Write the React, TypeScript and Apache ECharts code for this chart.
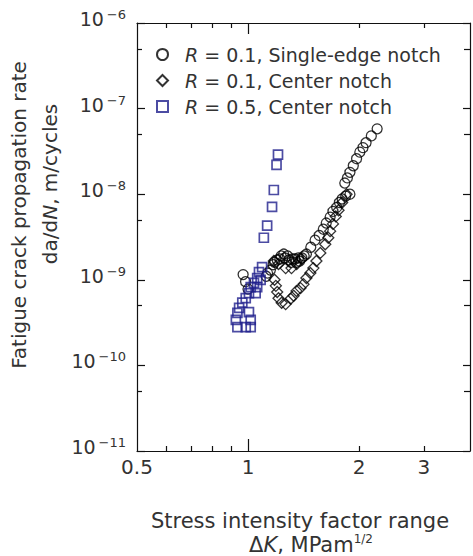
import React, { useEffect, useRef } from 'react';
import * as echarts from 'echarts';

// ---- axis ticks ----
const xMin = 0.5;
const xMax = 4;
const xTickLabels = [0.5, 1, 2, 3];
const xMajorTicks = [1];
const xMinorTicks = [0.6, 0.7, 0.8, 0.9, 2, 3];
const yExpMin = -11;
const yExpMax = -6;
const yMinorTicks = [5e-11, 5e-10, 5e-9, 5e-8, 5e-7];

// ---- series ----
const seriesNames = ['R = 0.1, Single-edge notch', 'R = 0.1, Center notch', 'R = 0.5, Center notch'];

// R = 0.1, single-edge notch (circles)
const senK = [0.97, 0.985, 1.0, 1.12, 1.13, 1.15, 1.17, 1.18, 1.2, 1.22, 1.23, 1.25, 1.26, 1.28, 1.29, 1.31, 1.32, 1.34, 1.35, 1.37, 1.38, 1.4, 1.42, 1.44, 1.48, 1.52, 1.56, 1.6, 1.63, 1.67, 1.7, 1.74, 1.77, 1.8, 1.84, 1.89, 1.83, 1.86, 1.89, 1.93, 1.97, 2.01, 2.05, 2.09, 2.16, 2.24];
const senRate = [1.15e-9, 9.5e-10, 7.8e-10, 1.1e-9, 1.2e-9, 1.3e-9, 1.5e-9, 1.6e-9, 1.7e-9, 1.75e-9, 1.9e-9, 2.0e-9, 1.8e-9, 1.9e-9, 1.7e-9, 1.6e-9, 1.75e-9, 1.75e-9, 1.6e-9, 1.8e-9, 1.65e-9, 1.8e-9, 1.9e-9, 2.0e-9, 2.4e-9, 2.9e-9, 3.3e-9, 3.9e-9, 4.6e-9, 5.4e-9, 6.3e-9, 7.0e-9, 8.0e-9, 8.8e-9, 9.5e-9, 1.0e-8, 1.35e-8, 1.55e-8, 1.8e-8, 2.15e-8, 2.6e-8, 3.1e-8, 3.5e-8, 4.0e-8, 4.8e-8, 5.8e-8];

// R = 0.1, center notch (diamonds)
const cnK = [1.175, 1.18, 1.19, 1.2, 1.21, 1.234, 1.265, 1.305, 1.33, 1.354, 1.388, 1.414, 1.44, 1.476, 1.504, 1.533, 1.571, 1.62, 1.651, 1.67, 1.21, 1.265, 1.312, 1.355, 1.397, 1.7, 1.73, 1.76, 1.8, 1.85];
const cnRate = [1.66e-9, 1.0e-9, 8.5e-10, 7.2e-10, 6.1e-10, 5.4e-10, 5.2e-10, 6.0e-10, 6.5e-10, 7.4e-10, 8.0e-10, 8.9e-10, 1.05e-9, 1.2e-9, 1.37e-9, 1.66e-9, 2.06e-9, 2.6e-9, 3.1e-9, 3.7e-9, 1.53e-9, 1.37e-9, 1.37e-9, 1.53e-9, 1.75e-9, 4.5e-9, 5.5e-9, 6.5e-9, 8.0e-9, 1.0e-8];

// R = 0.5, center notch (squares)
const cn5K = [0.927, 0.936, 0.986, 1.017, 1.017, 1.006, 0.936, 0.946, 0.965, 0.986, 1.006, 1.049, 1.017, 1.059, 1.038, 1.082, 1.059, 1.071, 1.092, 1.104, 1.127, 1.162, 1.175, 1.195, 1.206];
const cn5Rate = [3.4e-10, 2.8e-10, 2.8e-10, 2.8e-10, 3.4e-10, 4.2e-10, 4.1e-10, 4.7e-10, 5.4e-10, 6.1e-10, 7.0e-10, 7.0e-10, 8.2e-10, 8.2e-10, 9.2e-10, 1.0e-9, 1.05e-9, 1.23e-9, 1.41e-9, 3.1e-9, 4.3e-9, 7.1e-9, 1.12e-8, 2.2e-8, 2.9e-8];

const L = Math.log10;
const FONT = 'DejaVu Sans';
const TXT = '#333';
const AX = '#111';

function pts(k: number[], r: number[]) {
  return k.map((v, i) => [L(v), L(r[i])]);
}

export default function App() {
  const ref = useRef<HTMLDivElement>(null);
  useEffect(() => {
    if (!ref.current) return;
    const chart = echarts.init(ref.current, null, { renderer: 'svg' });

    const xBase = {
      type: 'value' as const,
      min: L(xMin),
      max: L(xMax),
      splitLine: { show: false },
      axisLine: { show: true, onZero: false, lineStyle: { color: AX, width: 1.2 } },
    };
    const yBase = {
      type: 'value' as const,
      min: yExpMin,
      max: yExpMax,
      interval: 1,
      splitLine: { show: false },
      axisLine: { show: true, onZero: false, lineStyle: { color: AX, width: 1.2 } },
    };

    const option: any = {
      animation: false,
      textStyle: { fontFamily: FONT },
      grid: { left: 137, top: 23, width: 333, height: 428 },
      xAxis: [
        {
          ...xBase,
          position: 'bottom',
          axisTick: { show: true, inside: true, length: 12, customValues: xMajorTicks.map(L), lineStyle: { color: AX, width: 1.2 } },
          axisLabel: {
            show: true,
            customValues: xTickLabels.map(L),
            margin: 6,
            fontSize: 20,
            fontFamily: FONT,
            color: TXT,
            formatter: (v: number) => String(+Math.pow(10, v).toFixed(2)),
          },
        },
        {
          ...xBase,
          position: 'bottom',
          axisLine: { show: false, onZero: false },
          axisTick: { show: true, inside: true, length: 5, customValues: xMinorTicks.map(L), lineStyle: { color: AX, width: 1.2 } },
          axisLabel: { show: false },
        },
        {
          ...xBase,
          position: 'top',
          axisTick: { show: true, inside: true, length: 11, customValues: xMajorTicks.map(L), lineStyle: { color: AX, width: 1.2 } },
          axisLabel: { show: false },
        },
        {
          ...xBase,
          position: 'top',
          axisLine: { show: false, onZero: false },
          axisTick: { show: true, inside: true, length: 5, customValues: xMinorTicks.map(L), lineStyle: { color: AX, width: 1.2 } },
          axisLabel: { show: false },
        },
      ],
      yAxis: [
        {
          ...yBase,
          position: 'left',
          axisTick: { show: true, inside: true, length: 8, lineStyle: { color: AX, width: 1.2 } },
          axisLabel: {
            show: true,
            margin: 11,
            padding: [0, 0, 8, 0],
            color: TXT,
            formatter: (v: number) => `{b|10}{s|\u2212${Math.round(-v)}}`,
            rich: {
              b: { fontSize: 19, lineHeight: 22, fontFamily: FONT, color: TXT },
              s: { fontSize: 13, lineHeight: 12, verticalAlign: 'top', padding: [0, 0, 0, 3], fontFamily: FONT, color: TXT },
            },
          },
        },
        {
          ...yBase,
          position: 'left',
          axisLine: { show: false, onZero: false },
          axisTick: { show: true, inside: true, length: 5, customValues: yMinorTicks.map(L), lineStyle: { color: AX, width: 1.2 } },
          axisLabel: { show: false },
        },
        {
          ...yBase,
          position: 'right',
          axisTick: { show: true, inside: true, length: 7, lineStyle: { color: AX, width: 1.2 } },
          axisLabel: { show: false },
        },
        {
          ...yBase,
          position: 'right',
          axisLine: { show: false, onZero: false },
          axisTick: { show: true, inside: true, length: 6, customValues: yMinorTicks.map(L), lineStyle: { color: AX, width: 1.2 } },
          axisLabel: { show: false },
        },
      ],
      legend: {
        orient: 'vertical',
        left: 151,
        top: 40,
        itemWidth: 11,
        itemHeight: 11,
        itemGap: 7,
        data: seriesNames,
        formatter: (name: string) => `{i|R}{n|${name.slice(1)}}`,
        textStyle: {
          fontFamily: FONT,
          fontSize: 19,
          color: TXT,
          padding: [0, 0, 0, 12],
          rich: {
            i: { fontStyle: 'italic', fontSize: 19, lineHeight: 20, fontFamily: FONT, color: TXT },
            n: { fontSize: 19, lineHeight: 20, fontFamily: FONT, color: TXT },
          },
        },
      },
      series: [
        {
          name: seriesNames[0],
          type: 'scatter',
          xAxisIndex: 0,
          yAxisIndex: 0,
          symbol: 'circle',
          symbolSize: 10,
          itemStyle: { color: 'rgba(255,255,255,0)', borderColor: '#000', borderWidth: 1.3 },
          data: pts(senK, senRate),
        },
        {
          name: seriesNames[1],
          type: 'scatter',
          xAxisIndex: 0,
          yAxisIndex: 0,
          symbol: 'diamond',
          symbolSize: 11,
          itemStyle: { color: 'rgba(255,255,255,0)', borderColor: '#000', borderWidth: 1.3 },
          data: pts(cnK, cnRate),
        },
        {
          name: seriesNames[2],
          type: 'scatter',
          xAxisIndex: 0,
          yAxisIndex: 0,
          symbol: 'rect',
          symbolSize: 9,
          itemStyle: { color: 'rgba(255,255,255,0)', borderColor: '#1f1f8c', borderWidth: 1.7 },
          data: pts(cn5K, cn5Rate),
        },
      ],
      graphic: [
        {
          type: 'text',
          x: 19,
          y: 215,
          rotation: Math.PI / 2,
          style: {
            text: 'Fatigue crack propagation rate',
            fontSize: 20,
            fontFamily: FONT,
            fill: TXT,
            align: 'center',
            verticalAlign: 'middle',
            textAlign: 'center',
            textVerticalAlign: 'middle',
          },
        },
        {
          type: 'text',
          x: 50,
          y: 184,
          rotation: Math.PI / 2,
          style: {
            text: '{a|da/d}{i|N}{a|, m/cycles}',
            fill: TXT,
            align: 'center',
            verticalAlign: 'middle',
            textAlign: 'center',
            textVerticalAlign: 'middle',
            rich: {
              a: { fontSize: 20, fontFamily: FONT, fill: TXT, color: TXT },
              i: { fontSize: 20, fontFamily: FONT, fontStyle: 'italic', fill: TXT, color: TXT },
            },
          },
        },
        {
          type: 'text',
          x: 300,
          y: 521,
          style: {
            text: 'Stress intensity factor range',
            fontSize: 21,
            fontFamily: FONT,
            fill: TXT,
            align: 'center',
            verticalAlign: 'middle',
            textAlign: 'center',
            textVerticalAlign: 'middle',
          },
        },
        {
          type: 'text',
          x: 311,
          y: 545,
          style: {
            text: '{a|\u0394}{i|K}{a|, MPam}{s|1/2}',
            fill: TXT,
            align: 'center',
            verticalAlign: 'middle',
            textAlign: 'center',
            textVerticalAlign: 'middle',
            rich: {
              a: { fontSize: 21, lineHeight: 24, fontFamily: FONT, fill: TXT, color: TXT },
              i: { fontSize: 21, lineHeight: 24, fontFamily: FONT, fontStyle: 'italic', fill: TXT, color: TXT },
              s: { fontSize: 12, lineHeight: 12, verticalAlign: 'top', fontFamily: FONT, fill: TXT, color: TXT },
            },
          },
        },
      ],
    };

    chart.setOption(option);
    return () => chart.dispose();
  }, []);

  return (
    <div
      ref={ref}
      style={{ position: 'fixed', left: 0, top: 0, width: 473, height: 556, background: '#fff' }}
    />
  );
}
